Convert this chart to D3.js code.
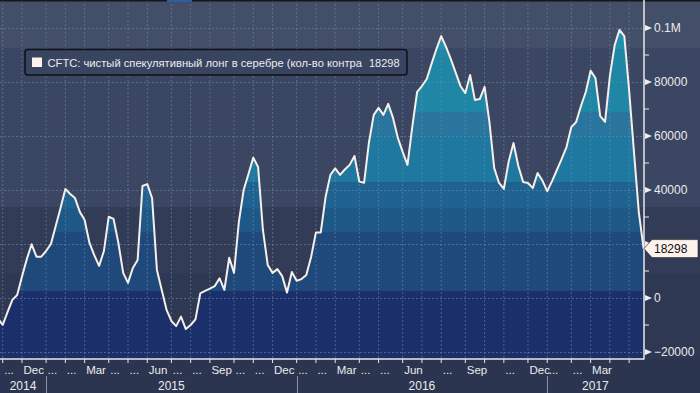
<!DOCTYPE html>
<html>
<head>
<meta charset="utf-8">
<script src="https://cdn.jsdelivr.net/npm/d3@7"></script>
<style>
  body { margin: 0; background: #2b3550; }
  svg { display: block; }
  text { font-family: "Liberation Sans", Arial, sans-serif; }
</style>
</head>
<body>
<div class="chart"></div>
<script>
// weekly CFTC net speculative long, silver (contracts)
var startDate = "2014-10-28";
var values = [
  -7500, -10000, -5200, -700, 1100, 8000, 14400, 19900, 15300, 15300,
  17400, 20000, 26700, 33300, 40400, 38500, 37000, 31900, 28900, 20400,
  15900, 11900, 17400, 30100, 29300, 20400, 9300, 5600, 11100, 14100,
  41500, 42200, 37000, 10400, 3000, -4400, -8500, -10400, -6900, -11500,
  -10000, -7900, 1700, 2600, 3500, 4400, 7300, 3000, 14900, 9300,
  28100, 40000, 45900, 52000, 48500, 25200, 12200, 9300, 10700, 8100,
  2000, 9600, 6400, 7000, 8500, 15200, 24300, 24300, 37400, 45600,
  48000, 45600, 47600, 49300, 52600, 43100, 42700, 57600, 67800, 70400,
  67800, 71900, 66700, 59300, 54100, 49300, 63500, 76300, 78500, 81100,
  86800, 92200, 97000, 93000, 88500, 83500, 78500, 75900, 82600, 73300,
  73700, 78200, 65200, 48100, 42600, 40400, 50600, 57400, 48900, 43000,
  42600, 40700, 46300, 43500, 39600, 43300, 47400, 51500, 55900, 63300,
  65200, 71100, 76300, 84200, 81500, 67400, 65200, 82200, 93700, 99300,
  97000, 76800, 54100, 31900, 18298
];
// one label per month tick, Nov 2014 .. May 2017
var monthLabels = [
  "...", "Dec", "...", "...", "Mar", "...", "...", "Jun", "...", "...", "Sep", "...",
  "...", "Dec", "...", "...", "Mar", "...", "...", "Jun", "", "...", "Sep", "",
  "...", "Dec", "...", "...", "Mar", "", ""
];
var yearLabels = ["2014", "2015", "2016", "2017"];
var yTicks = [-20000, 0, 20000, 40000, 60000, 80000, 100000];
var yMinorTicks = [-10000, 10000, 30000, 50000, 70000, 90000];
var seriesName = "CFTC: чистый спекулятивный лонг в серебре (кол-во контра";

var W = 700, H = 393;
var plotRight = 644, plotBottom = 359;

var svg = d3.select(".chart").append("svg")
    .attr("width", W)
    .attr("height", H);

var parseDate = d3.timeParse("%Y-%m-%d");
var dates = values.map(function(d, i) {
  return d3.timeDay.offset(parseDate(startDate), 7 * i);
});

var x = d3.scaleLinear()
    .domain([0, values.length - 1])
    .range([-2.1, 643.6]);

var y = d3.scaleLinear()
    .domain([-20000, 100000])
    .range([352, 28]);

// background bands
var bgBands = [
  [0, 48, "#434e69"],
  [48, 207, "#3a4662"],
  [207, 273, "#323c57"],
  [273, plotBottom, "#2e3853"]
];
svg.selectAll("rect.bg")
  .data(bgBands)
  .enter().append("rect")
    .attr("class", "bg")
    .attr("x", 0).attr("width", W)
    .attr("y", function(d) { return d[0]; })
    .attr("height", function(d) { return d[1] - d[0]; })
    .attr("fill", function(d) { return d[2]; });

svg.append("rect")
    .attr("x", 0).attr("y", plotBottom)
    .attr("width", W).attr("height", H - plotBottom)
    .attr("fill", "#2b3550");

// area under the curve, banded
var area = d3.area()
    .x(function(d, i) { return x(i); })
    .y0(plotBottom)
    .y1(function(d) { return y(d); });

var defs = svg.append("defs");
defs.append("clipPath").attr("id", "areaClip")
  .append("path").attr("d", area(values));
defs.append("clipPath").attr("id", "plotClip")
  .append("rect").attr("x", 0).attr("y", 0)
  .attr("width", plotRight).attr("height", plotBottom);

var fillBands = [
  [0, 49, "#2391ad"],
  [49, 112, "#1f86a6"],
  [112, 135, "#29759d"],
  [135, 182, "#1f789f"],
  [182, 208, "#1f6290"],
  [208, 232, "#1e5886"],
  [232, 291, "#1f497b"],
  [291, plotBottom, "#1b2f6a"]
];
svg.append("g")
    .attr("clip-path", "url(#areaClip)")
  .selectAll("rect")
  .data(fillBands)
  .enter().append("rect")
    .attr("x", 0).attr("width", plotRight)
    .attr("y", function(d) { return d[0]; })
    .attr("height", function(d) { return d[1] - d[0]; })
    .attr("fill", function(d) { return d[2]; });

// month ticks = first week of each month
var monthIdx = [];
dates.forEach(function(d, i) {
  if (i > 0 && d.getMonth() !== dates[i - 1].getMonth()) monthIdx.push(i);
});
var yearIdx = monthIdx.filter(function(i) { return dates[i].getMonth() === 0; });

// grid
var grid = svg.append("g").attr("clip-path", "url(#plotClip)");
grid.selectAll("line.vg")
  .data(monthIdx)
  .enter().append("line")
    .attr("x1", function(d) { return x(d); })
    .attr("x2", function(d) { return x(d); })
    .attr("y1", 0).attr("y2", plotBottom)
    .attr("stroke", "#6a8fb0").attr("stroke-opacity", 0.55)
    .attr("stroke-dasharray", "2,2");
grid.selectAll("line.hg")
  .data(yTicks)
  .enter().append("line")
    .attr("x1", 0).attr("x2", plotRight)
    .attr("y1", function(d) { return Math.round(y(d)) + 0.5; })
    .attr("y2", function(d) { return Math.round(y(d)) + 0.5; })
    .attr("stroke", "#6a8fb0").attr("stroke-opacity", 0.55)
    .attr("stroke-dasharray", "2,2");

// the series
svg.append("path")
    .datum(values)
    .attr("clip-path", "url(#plotClip)")
    .attr("fill", "none")
    .attr("stroke", "#f7efea")
    .attr("stroke-width", 2)
    .attr("stroke-linejoin", "round")
    .attr("d", d3.line()
      .x(function(d, i) { return x(i); })
      .y(function(d) { return y(d); }));

// top strip
svg.append("rect").attr("x", 0).attr("y", 0).attr("width", W).attr("height", 1.5).attr("fill", "#15171d");
svg.append("rect").attr("x", 167).attr("y", 0).attr("width", 25).attr("height", 2).attr("fill", "#2c5f9e");

// axes lines
svg.append("line")
    .attr("x1", plotRight).attr("x2", plotRight)
    .attr("y1", 0).attr("y2", plotBottom + 0.5)
    .attr("stroke", "#e8e8e8").attr("stroke-width", 1.5);
svg.append("line")
    .attr("x1", 0).attr("x2", plotRight)
    .attr("y1", plotBottom).attr("y2", plotBottom)
    .attr("stroke", "#e8e8e8").attr("stroke-width", 1.5);

// right axis
var last = values[values.length - 1];
var ly = y(last);
var yAxis = svg.append("g");
yAxis.selectAll("line.minor")
  .data(yMinorTicks)
  .enter().append("line")
    .attr("x1", plotRight).attr("x2", plotRight + 5)
    .attr("y1", function(d) { return y(d); })
    .attr("y2", function(d) { return y(d); })
    .attr("stroke", "#e8e8e8");
var fmt = function(d) { return d === 100000 ? "0.1M" : d3.format("d")(d); };
var major = yAxis.selectAll("g.major")
  .data(yTicks)
  .enter().append("g")
    .attr("transform", function(d) { return "translate(" + plotRight + "," + y(d) + ")"; });
major.append("path")
    .attr("d", "M1,-3L8,0L1,3Z")
    .attr("fill", "#eeeeee");
// labels hidden behind the last-value marker are not drawn
major.filter(function(d) { return Math.abs(y(d) - ly) > 14; })
  .append("text")
    .attr("x", 10).attr("dy", "0.36em")
    .attr("fill", "#ececec")
    .style("font-size", "12px")
    .text(fmt);

// last value marker
var lastG = svg.append("g").attr("transform", "translate(" + plotRight + "," + ly + ")");
lastG.append("path")
    .attr("d", "M0,0L8,-9L54,-9L54,9L8,9Z")
    .attr("fill", "#fdf2ec")
    .attr("stroke", "#222")
    .attr("stroke-width", 0.6);
lastG.append("text")
    .attr("x", 10).attr("dy", "0.36em")
    .attr("fill", "#111")
    .style("font-size", "12px")
    .text(last);

// bottom axis
svg.selectAll("line.mt")
  .data(monthIdx)
  .enter().append("line")
    .attr("x1", function(d) { return x(d); })
    .attr("x2", function(d) { return x(d); })
    .attr("y1", plotBottom).attr("y2", plotBottom + 4)
    .attr("stroke", "#e8e8e8");
svg.selectAll("text.ml")
  .data(monthIdx)
  .enter().append("text")
    .attr("x", function(d) { return x(d) + 1.5; })
    .attr("y", 374)
    .attr("fill", "#ececec")
    .style("font-size", "11.5px")
    .text(function(d, i) { return monthLabels[i]; });

svg.selectAll("line.ys")
  .data(yearIdx)
  .enter().append("line")
    .attr("x1", function(d) { return Math.round(x(d)) + 0.5; })
    .attr("x2", function(d) { return Math.round(x(d)) + 0.5; })
    .attr("y1", 376).attr("y2", H)
    .attr("stroke", "#8a93a6");
var yearEdges = [0].concat(yearIdx.map(x)).concat([x(values.length - 1)]);
svg.selectAll("text.yl")
  .data(yearLabels)
  .enter().append("text")
    .attr("x", function(d, i) { return (yearEdges[i] + yearEdges[i + 1]) / 2; })
    .attr("y", 390)
    .attr("text-anchor", "middle")
    .attr("fill", "#ececec")
    .style("font-size", "12px")
    .text(function(d) { return d; });

// legend
var legend = svg.append("g");
legend.append("rect")
    .attr("x", 25).attr("y", 49.5)
    .attr("width", 382).attr("height", 25.5)
    .attr("rx", 3)
    .attr("fill", "#394560")
    .attr("stroke", "#0e1016")
    .attr("stroke-width", 1.5);
legend.append("rect")
    .attr("x", 32).attr("y", 57.5)
    .attr("width", 10).attr("height", 9.5)
    .attr("fill", "#fff3ee");
legend.append("text")
    .attr("x", 47.5).attr("y", 66.5)
    .attr("fill", "#ececec")
    .style("font-size", "11.2px")
    .text(seriesName);
legend.append("text")
    .attr("x", 399.5).attr("y", 66.5)
    .attr("text-anchor", "end")
    .attr("fill", "#ececec")
    .style("font-size", "11px")
    .text(last);
</script>
</body>
</html>
